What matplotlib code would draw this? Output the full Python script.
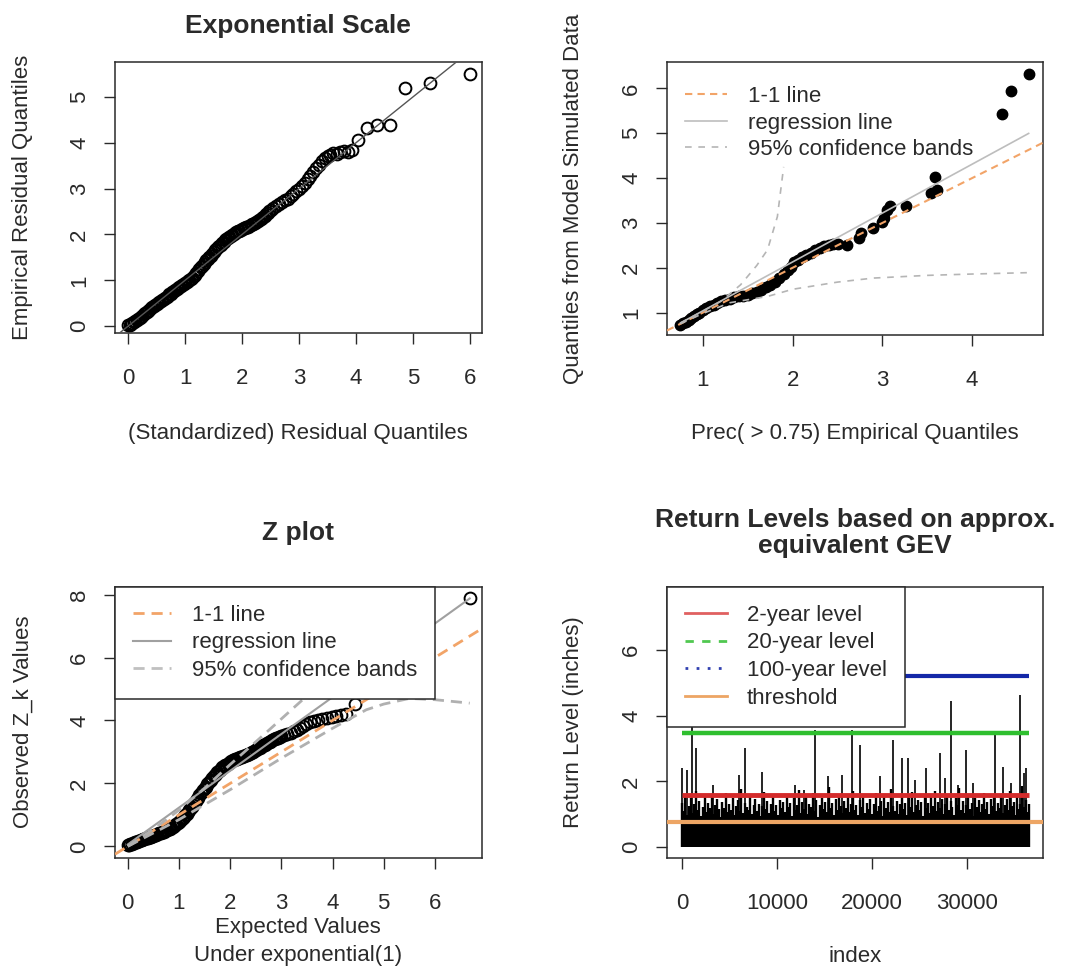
import numpy as np
import matplotlib
matplotlib.use("Agg")
import matplotlib.pyplot as plt
from matplotlib.lines import Line2D

plt.rcParams['font.family'] = ['Liberation Sans', 'DejaVu Sans']

# ---------------- data ----------------
# Exponential-scale QQ plot of standardized residuals
exp_theoretical = [
    0.000, 0.025, 0.050, 0.075, 0.100, 0.125, 0.150, 0.175, 0.200, 0.225,
    0.250, 0.275, 0.300, 0.325, 0.350, 0.375, 0.400, 0.425, 0.450, 0.475,
    0.500, 0.525, 0.550, 0.575, 0.600, 0.625, 0.650, 0.675, 0.700, 0.725,
    0.750, 0.775, 0.800, 0.825, 0.850, 0.875, 0.900, 0.925, 0.950, 0.975,
    1.000, 1.025, 1.050, 1.075, 1.100, 1.125, 1.150, 1.175, 1.200, 1.225,
    1.250, 1.275, 1.300, 1.325, 1.350, 1.375, 1.400, 1.425, 1.450, 1.475,
    1.500, 1.525, 1.550, 1.575, 1.600, 1.625, 1.650, 1.675, 1.700, 1.725,
    1.750, 1.775, 1.800, 1.825, 1.850, 1.875, 1.900, 1.925, 1.950, 1.975,
    2.000, 2.025, 2.050, 2.075, 2.100, 2.125, 2.150, 2.175, 2.200, 2.225,
    2.250, 2.275, 2.300, 2.325, 2.350, 2.375, 2.400, 2.425, 2.450, 2.475,
    2.50, 2.55, 2.60, 2.65, 2.70, 2.75, 2.80, 2.85, 2.90, 2.95,
    3.00, 3.05, 3.10, 3.15, 3.20, 3.25, 3.30, 3.35, 3.40, 3.45,
    3.50, 3.55, 3.60, 3.66, 3.72, 3.78, 3.85, 3.93, 4.04, 4.19,
    4.36, 4.60, 4.86, 5.30, 6.00]
exp_empirical = [
    0.02, 0.03, 0.05, 0.07, 0.09, 0.11, 0.13, 0.16, 0.18, 0.20,
    0.23, 0.26, 0.28, 0.30, 0.33, 0.36, 0.39, 0.41, 0.44, 0.47,
    0.49, 0.51, 0.53, 0.55, 0.57, 0.59, 0.61, 0.64, 0.66, 0.69,
    0.71, 0.74, 0.76, 0.79, 0.81, 0.84, 0.86, 0.88, 0.90, 0.92,
    0.94, 0.96, 0.98, 1.00, 1.03, 1.06, 1.09, 1.12, 1.16, 1.20,
    1.24, 1.28, 1.32, 1.36, 1.40, 1.44, 1.47, 1.51, 1.54, 1.58,
    1.61, 1.65, 1.68, 1.72, 1.75, 1.78, 1.81, 1.84, 1.87, 1.90,
    1.92, 1.95, 1.97, 1.99, 2.01, 2.03, 2.05, 2.07, 2.08, 2.10,
    2.11, 2.13, 2.14, 2.16, 2.17, 2.19, 2.20, 2.22, 2.23, 2.25,
    2.27, 2.29, 2.31, 2.34, 2.36, 2.39, 2.41, 2.44, 2.47, 2.50,
    2.53, 2.58, 2.62, 2.66, 2.70, 2.74, 2.78, 2.83, 2.88, 2.94,
    3.00, 3.06, 3.13, 3.20, 3.28, 3.36, 3.44, 3.52, 3.60, 3.67,
    3.72, 3.74, 3.78, 3.76, 3.80, 3.82, 3.80, 3.84, 4.06, 4.31,
    4.38, 4.38, 5.20, 5.30, 5.49]

# Empirical vs. model-simulated quantiles of Prec > 0.75
prec_empirical = [0.75, 0.78, 0.81, 0.84, 0.87, 0.90, 0.93, 0.96, 1.00, 1.04,
                  1.08, 1.12, 1.16, 1.20, 1.25, 1.30, 1.35, 1.40, 1.45, 1.50,
                  1.55, 1.60, 1.65, 1.70, 1.75, 1.80, 1.85, 1.90, 1.95, 1.98,
                  2.02, 2.06, 2.10, 2.15, 2.20, 2.25, 2.30, 2.35, 2.40, 2.45,
                  2.50, 2.61, 2.74, 2.76, 2.90, 3.00, 3.02, 3.05, 3.09, 3.26,
                  3.54, 3.61, 3.59, 4.33, 4.43, 4.63]
prec_simulated = [0.72, 0.76, 0.80, 0.84, 0.88, 0.92, 0.96, 1.00, 1.05, 1.10,
                  1.14, 1.18, 1.22, 1.25, 1.28, 1.31, 1.34, 1.36, 1.38, 1.40,
                  1.43, 1.47, 1.51, 1.56, 1.62, 1.69, 1.77, 1.86, 1.94, 2.02,
                  2.12, 2.18, 2.23, 2.28, 2.34, 2.39, 2.44, 2.48, 2.51, 2.53,
                  2.53, 2.51, 2.66, 2.77, 2.88, 3.02, 3.10, 3.29, 3.38, 3.38,
                  3.66, 3.73, 4.02, 5.44, 5.94, 6.32]
qq_reg = (-0.05, 1.09)                       # intercept, slope
qq_band_upper_x = [0.75, 1.00, 1.20, 1.42, 1.60, 1.72, 1.83, 1.90]
qq_band_upper_y = [0.77, 1.03, 1.25, 1.62, 2.05, 2.40, 3.14, 4.25]
qq_band_lower_x = [0.75, 1.00, 1.30, 1.72, 2.00, 2.50, 2.90, 3.50, 4.00, 4.61]
qq_band_lower_y = [0.75, 0.98, 1.22, 1.36, 1.52, 1.68, 1.77, 1.83, 1.86, 1.89]

# Z plot
z_expected = [
    0.000, 0.025, 0.050, 0.075, 0.100, 0.125, 0.150, 0.175, 0.200, 0.225,
    0.250, 0.275, 0.300, 0.325, 0.350, 0.375, 0.400, 0.425, 0.450, 0.475,
    0.500, 0.525, 0.550, 0.575, 0.600, 0.625, 0.650, 0.675, 0.700, 0.725,
    0.750, 0.775, 0.800, 0.825, 0.850, 0.875, 0.900, 0.925, 0.950, 0.975,
    1.000, 1.025, 1.050, 1.075, 1.100, 1.125, 1.150, 1.175, 1.200, 1.225,
    1.250, 1.275, 1.300, 1.325, 1.350, 1.375, 1.400, 1.425, 1.450, 1.475,
    1.500, 1.525, 1.550, 1.575, 1.600, 1.625, 1.650, 1.675, 1.700, 1.725,
    1.750, 1.775, 1.800, 1.825, 1.850, 1.875, 1.900, 1.925, 1.950, 1.975,
    2.000, 2.025, 2.050, 2.075, 2.100, 2.125, 2.150, 2.175, 2.200, 2.225,
    2.250, 2.275, 2.300, 2.325, 2.350, 2.375, 2.400, 2.425, 2.450, 2.475,
    2.500, 2.525, 2.550, 2.575, 2.600, 2.625, 2.650, 2.675, 2.700, 2.725,
    2.750, 2.775, 2.800, 2.825, 2.850, 2.875, 2.900, 2.925, 2.950, 2.975,
    3.00, 3.06, 3.12, 3.18, 3.24, 3.30, 3.36, 3.42, 3.49, 3.56,
    3.64, 3.72, 3.80, 3.89, 3.98, 4.07, 4.16, 4.27, 4.44, 6.68]
z_observed = [
    0.03, 0.05, 0.07, 0.08, 0.10, 0.12, 0.13, 0.15, 0.16, 0.17,
    0.19, 0.20, 0.22, 0.23, 0.25, 0.26, 0.28, 0.29, 0.31, 0.32,
    0.34, 0.35, 0.37, 0.39, 0.41, 0.42, 0.44, 0.46, 0.47, 0.49,
    0.51, 0.52, 0.54, 0.56, 0.59, 0.62, 0.65, 0.69, 0.72, 0.75,
    0.78, 0.82, 0.86, 0.90, 0.94, 0.99, 1.04, 1.09, 1.14, 1.20,
    1.25, 1.31, 1.37, 1.43, 1.49, 1.55, 1.62, 1.68, 1.74, 1.79,
    1.85, 1.90, 1.97, 2.02, 2.08, 2.12, 2.18, 2.22, 2.27, 2.31,
    2.35, 2.39, 2.43, 2.47, 2.51, 2.54, 2.57, 2.60, 2.63, 2.66,
    2.69, 2.71, 2.73, 2.75, 2.76, 2.78, 2.80, 2.81, 2.83, 2.84,
    2.86, 2.87, 2.89, 2.91, 2.93, 2.95, 2.97, 2.99, 3.01, 3.03,
    3.06, 3.08, 3.11, 3.13, 3.16, 3.18, 3.21, 3.23, 3.26, 3.28,
    3.31, 3.33, 3.36, 3.38, 3.40, 3.41, 3.43, 3.45, 3.46, 3.48,
    3.50, 3.53, 3.57, 3.61, 3.66, 3.71, 3.76, 3.82, 3.88, 3.94,
    3.99, 4.03, 4.06, 4.09, 4.12, 4.14, 4.17, 4.20, 4.53, 7.88]
z_reg = (0.06, 1.17)
z_band_upper_x = [0.00, 0.50, 1.00, 1.50, 2.00, 2.68, 3.43, 4.00, 4.60]
z_band_upper_y = [0.00, 0.55, 1.15, 1.85, 2.60, 3.58, 4.68, 5.50, 6.30]
z_band_lower_x = [0.00, 1.00, 2.00, 3.00, 4.00, 4.66, 5.00, 5.50, 6.00, 6.68]
z_band_lower_y = [0.00, 0.85, 1.80, 2.80, 3.75, 4.34, 4.52, 4.70, 4.66, 4.55]

# Daily precipitation series and return levels
n_days = 36500
daily_peak = [
    1.35, 1.10, 1.62, 0.98, 1.25, 1.48, 1.05, 1.30, 1.72, 1.12, 1.40, 0.95, 1.22, 1.55, 1.08, 1.33, 1.18, 1.60, 1.02, 1.28,
    1.45, 1.15, 0.92, 1.38, 1.20, 1.65, 1.06, 1.30, 1.12, 1.50, 0.97, 1.26, 1.42, 1.10, 1.78, 1.03, 1.35, 1.22, 1.14, 1.58,
    1.00, 1.28, 1.46, 1.09, 1.32, 0.94, 1.24, 1.68, 1.16, 1.40, 1.05, 1.30, 1.52, 1.11, 1.27, 0.99, 1.44, 1.19, 1.36, 1.07,
    1.62, 1.21, 1.34, 0.96, 1.48, 1.13, 1.29, 1.74, 1.04, 1.38, 1.17, 1.55, 1.01, 1.31, 1.23, 1.66, 1.09, 1.42, 0.93, 1.27,
    1.50, 1.15, 1.36, 1.06, 1.83, 1.20, 1.33, 0.98, 1.45, 1.12, 1.60, 1.25, 1.03, 1.39, 1.18, 1.52, 1.08, 1.30, 1.70, 1.14,
    1.28, 0.97, 1.43, 1.22, 1.58, 1.05, 1.35, 1.16, 1.47, 1.00, 1.32, 1.64, 1.11, 1.26, 1.40, 0.95, 1.53, 1.19, 1.37, 1.07,
    1.76, 1.24, 1.10, 1.41, 1.02, 1.30, 1.56, 1.15, 1.34, 0.99, 1.49, 1.21, 1.68, 1.06, 1.29, 1.44, 1.13, 1.38, 0.94, 1.60,
    1.18, 1.33, 1.05, 1.51, 1.26, 1.72, 1.09, 1.36, 1.20, 1.46, 1.01, 1.31, 1.57, 1.14, 1.40, 1.23, 0.97, 1.48, 1.28, 1.80,
    1.12, 1.39, 1.04, 1.27, 1.63, 1.17, 1.35, 0.96, 1.50, 1.22, 1.42, 1.08, 1.31, 1.66, 1.15, 1.37, 1.02, 1.45, 1.25, 1.55,
    1.10, 1.34, 1.19, 1.59, 1.03, 1.29, 1.47, 1.13, 1.70, 1.24, 1.38, 0.98, 1.52, 1.16, 1.32, 1.85, 1.21, 1.43, 1.07, 1.30,
]
storm_day = [0, 525, 1050, 1500, 3300, 5950, 6630, 8400, 11900, 12800,
             14000, 15400, 16800, 17850, 18700, 20800, 22200, 23100, 23800, 24500,
             25700, 27100, 27600, 28300, 29000, 29900, 30600, 32900, 33700, 34600,
             35500, 36000, 36200]
storm_prec = [2.40, 2.35, 7.60, 3.00, 1.90, 2.20, 3.00, 2.30, 1.90, 1.75,
              3.57, 2.15, 2.20, 3.57, 3.10, 2.15, 3.26, 2.70, 2.70, 2.05,
              2.40, 2.85, 2.10, 4.43, 1.90, 2.95, 1.95, 3.41, 2.45, 1.95,
              4.63, 2.25, 2.40]
rl_2yr, rl_20yr, rl_100yr = 1.59, 3.47, 5.19
threshold = 0.75

# ---------------- figure ----------------
W, H = 1069, 969
fig = plt.figure(figsize=(W / 100, H / 100), dpi=100)
INK = '#2a2a2a'
ORANGE = '#F2A468'
FS = 16


def axes_px(left, top, right, bottom):
    return fig.add_axes([left / W, 1 - bottom / H, (right - left) / W, (bottom - top) / H])


def ftext(x, y, s, **kw):
    kw.setdefault('ha', 'center')
    kw.setdefault('va', 'center')
    kw.setdefault('color', INK)
    kw.setdefault('fontsize', FS)
    fig.text(x / W, 1 - y / H, s, **kw)


def r_axes(ax, xlim, ylim, xticks, yticks, xticklabels=None):
    ax.set_xlim(xlim)
    ax.set_ylim(ylim)
    ax.set_xticks(xticks)
    ax.set_yticks(yticks)
    if xticklabels is not None:
        ax.set_xticklabels(xticklabels)
    ax.tick_params(direction='out', length=8, width=1, color=INK,
                   labelsize=FS, labelcolor=INK)
    ax.tick_params(axis='x', pad=17)
    ax.tick_params(axis='y', labelrotation=90, pad=10)
    for lab in ax.get_yticklabels():
        lab.set_va('center')
    for sp in ax.spines.values():
        sp.set_color(INK)
        sp.set_linewidth(1.1)


def legend_at(ax, handles, labels, x_px, y_px, frame, **kw):
    leg = ax.legend(handles, labels, loc='upper left',
                    bbox_to_anchor=(x_px / W, 1 - y_px / H),
                    bbox_transform=fig.transFigure,
                    frameon=frame, fontsize=FS, borderaxespad=0,
                    fancybox=False, **kw)
    for t in leg.get_texts():
        t.set_color(INK)
    if frame:
        leg.get_frame().set_edgecolor(INK)
        leg.get_frame().set_linewidth(1.1)
        leg.get_frame().set_facecolor('white')
        leg.get_frame().set_alpha(1)
    leg.set_zorder(10)
    return leg


# ---- Exponential scale QQ ----
ax1 = axes_px(115, 62, 482, 333)
ax1.plot(exp_theoretical, exp_empirical, 'o', mfc='none', mec='black',
         ms=8.5, mew=1.4, zorder=2)
ax1.axline((0, 0), slope=1, color='#555555', lw=1, zorder=3)
r_axes(ax1, (-0.23, 6.21), (-0.15, 5.76), range(0, 7), range(0, 6))
ftext(298, 26, 'Exponential Scale', fontsize=19, fontweight='bold')
ftext(298, 433, '(Standardized) Residual Quantiles')
ftext(23, 197, 'Empirical Residual Quantiles', rotation=90)

# ---- Empirical vs simulated quantiles ----
ax2 = axes_px(667, 62, 1043, 335)
ax2.plot(prec_empirical, prec_simulated, 'o', color='black', ms=7.5, zorder=2)
ax2.axline((1, 1), slope=1, color=ORANGE, lw=1.5, ls=(0, (3.5, 2.5)), zorder=3)
xr = np.array([min(prec_empirical), max(prec_empirical)])
ax2.plot(xr, qq_reg[0] + qq_reg[1] * xr, color='#BDBDBD', lw=1.2, zorder=3)
ax2.plot(qq_band_upper_x, qq_band_upper_y, color='#B5B5B5', lw=1.2,
         ls=(0, (4, 4)), zorder=3)
ax2.plot(qq_band_lower_x, qq_band_lower_y, color='#B5B5B5', lw=1.2,
         ls=(0, (4, 4)), zorder=3)
r_axes(ax2, (0.6, 4.79), (0.5, 6.59), range(1, 5), range(1, 7))
h2 = [Line2D([], [], color=ORANGE, lw=1.5, ls=(0, (3.5, 2.5))),
      Line2D([], [], color='#BDBDBD', lw=1.2),
      Line2D([], [], color='#B5B5B5', lw=1.2, ls=(0, (4, 4)))]
legend_at(ax2, h2, ['1-1 line', 'regression line', '95% confidence bands'],
          685, 86, False, borderpad=0, handlelength=1.9, handletextpad=0.95,
          labelspacing=0.25)
ftext(855, 433, 'Prec( > 0.75) Empirical Quantiles')
ftext(574, 199, 'Quantiles from Model Simulated Data', rotation=90)

# ---- Z plot ----
ax3 = axes_px(115, 587, 482, 858)
ax3.plot(z_expected, z_observed, 'o', mfc='none', mec='black', ms=8.5,
         mew=1.4, zorder=2)
ax3.axline((0, 0), slope=1, color=ORANGE, lw=2, ls=(0, (4, 2.5)), zorder=3)
zr = np.array([0, max(z_expected)])
ax3.plot(zr, z_reg[0] + z_reg[1] * zr, color='#A0A0A0', lw=1.5, zorder=3)
ax3.plot(z_band_upper_x, z_band_upper_y, color='#B0B0B0', lw=2,
         ls=(0, (4, 2.5)), zorder=3)
ax3.plot(z_band_lower_x, z_band_lower_y, color='#B0B0B0', lw=2,
         ls=(0, (4, 2.5)), zorder=3)
r_axes(ax3, (-0.25, 6.92), (-0.37, 8.24), range(0, 7), range(0, 9, 2))
h3 = [Line2D([], [], color=ORANGE, lw=2, ls=(0, (4, 2.5))),
      Line2D([], [], color='#A0A0A0', lw=1.5),
      Line2D([], [], color='#C0C0C0', lw=2, ls=(0, (4, 2.5)))]
legend_at(ax3, h3, ['1-1 line', 'regression line', '95% confidence bands'],
          115, 587, True, borderpad=0.8, handlelength=1.7, handletextpad=0.95,
          labelspacing=0.3)
ftext(298, 533, 'Z plot', fontsize=19, fontweight='bold')
ftext(298, 928, 'Expected Values')
ftext(298, 955, 'Under exponential(1)')
ftext(23, 722, 'Observed Z_k Values', rotation=90)

# ---- Return levels ----
ax4 = axes_px(667, 587, 1043, 858)
day_index = np.linspace(1, n_days, len(daily_peak))
ax4.vlines(day_index, 0, daily_peak, color='black', lw=1.7, zorder=2)
ax4.vlines(storm_day, 0, storm_prec, color='black', lw=1.2, zorder=2)
ax4.axhline(threshold, color='#EDA564', lw=3, zorder=3)
ax4.hlines(rl_2yr, 1, n_days, color='#D42B2B', lw=3.5, zorder=4)
ax4.hlines(rl_20yr, 1, n_days, color='#2FBF2F', lw=3.2, zorder=4)
ax4.hlines(rl_100yr, 1, n_days, color='#1428A8', lw=3, zorder=4)
r_axes(ax4, (-1575, 37950), (-0.33, 7.91), [0, 10000, 20000, 30000],
       [0, 2, 4, 6], ['0', '10000', '20000', '30000'])
h4 = [Line2D([], [], color='#E06060', lw=2),
      Line2D([], [], color='#50C850', lw=2, ls=(0, (3, 3))),
      Line2D([], [], color='#3040B0', lw=2, ls=(0, (1, 3))),
      Line2D([], [], color='#EDA564', lw=2)]
legend_at(ax4, h4, ['2-year level', '20-year level', '100-year level', 'threshold'],
          667, 587, True, borderpad=0.8, handlelength=1.9, handletextpad=0.9,
          labelspacing=0.3)
ftext(855, 533, 'Return Levels based on approx.\nequivalent GEV', fontsize=19,
      fontweight='bold', linespacing=1.15)
ftext(855, 956, 'index')
ftext(574, 722, 'Return Level (inches)', rotation=90)

fig.savefig('out.png', dpi=100, facecolor='white')
